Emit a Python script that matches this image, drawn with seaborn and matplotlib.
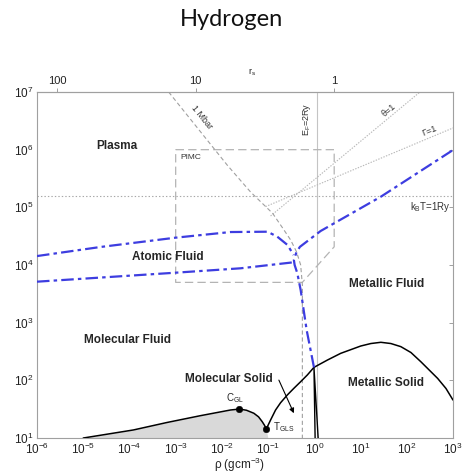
import numpy as np
import pandas as pd
import matplotlib
matplotlib.use("Agg")
import matplotlib.pyplot as plt
from matplotlib.ticker import LogLocator, NullLocator, NullFormatter
import seaborn as sns

# ---- phase-diagram data: density rho (g/cm^3), temperature T (K) ----
# upper (ionisation) boundary of the atomic fluid
ion_rho = [1e-6, 2.32e-5, 1e-3, 1.53e-2, 9.7e-2, 0.158, 0.264, 0.356]
ion_T = [1.43e4, 2.05e4, 2.98e4, 3.73e4, 3.78e4, 3.10e4, 2.22e4, 1.49e4]

# lower (dissociation) boundary of the atomic fluid
dis_rho = [1e-6, 1e-3, 2.53e-2, 0.307, 0.361]
dis_T = [5.14e3, 7.36e3, 8.77e3, 1.10e4, 1.13e4]

# metallisation line continuing into the dense-plasma boundary
met_rho = [0.982, 0.682, 0.506, 0.429, 0.375, 0.361, 0.414, 0.489, 1.37, 27.5, 1000]
met_T = [168, 746, 3.69e3, 7.18e3, 1.0e4, 1.22e4, 1.70e4, 2.07e4, 3.89e4, 1.53e5, 9.86e5]

# 1 Mbar isobar
mbar_rho = [7.05e-4, 1.30e-2, 4.16e-2, 0.125, 0.206, 0.307, 0.414, 0.506, 0.551, 0.551]
mbar_T = [1e7, 5.42e5, 1.85e5, 7.89e4, 4.39e4, 2.72e4, 1.68e4, 1.0e4, 4.5e3, 10]

# region covered by path-integral Monte Carlo
pimc_rho = [1e-3, 2.69, 2.69, 0.55, 1e-3, 1e-3]
pimc_T = [1e6, 1e6, 2.07e4, 5e3, 5e3, 1e6]

# degeneracy (theta = 1) and coupling (Gamma = 1) lines
theta_rho = [0.113, 193]
theta_T = [7.08e4, 1e7]
gamma_rho = [0.0881, 1000]
gamma_T = [1.03e5, 2.38e6]

# Fermi energy E_F = 2 Ry and k_B T = 1 Ry
ef_rho = 1.12
ry_T = 1.58e5

# gas-liquid coexistence (filled) up to the triple point
gl_rho = [1e-5, 1.22e-4, 6.5e-4, 3.43e-3, 1.53e-2, 2.40e-2, 3.41e-2, 4.91e-2,
          6.21e-2, 7.46e-2, 8.37e-2, 9.12e-2, 9.89e-2]
gl_T = [10, 13.8, 18.6, 24.4, 30.6, 31.8, 30.3, 26.9, 23.3, 19.2, 16.6, 14.3, 10]

# melting curve from the triple point
melt_rho = [9.12e-2, 0.113, 0.145, 0.186, 0.260, 0.361, 0.506, 0.706, 0.982, 1.92,
            3.72, 10.1, 16.7, 27.5, 45.3, 74.5, 123, 202, 466, 705, 1000]
melt_T = [14.3, 20.5, 30.6, 40.9, 55.7, 72.8, 94.8, 124, 168, 225,
          294, 394, 435, 457, 435, 384, 304, 210, 108, 72.3, 45.6]

# molecular / metallic solid boundary
sol_rho = [1.04, 0.982, 1.21]
sol_T = [10, 168, 10]

# critical point and triple point
pts_rho = [2.40e-2, 9.12e-2]
pts_T = [31.8, 14.3]
pts_name = ["C$_\\mathregular{GL}$", "T$_\\mathregular{GLS}$"]

sns.set_theme(style="white")
plt.rcParams["font.family"] = ["Liberation Sans", "DejaVu Sans"]
plt.rcParams["mathtext.default"] = "regular"
plt.rcParams["lines.scale_dashes"] = False

fig = plt.figure(figsize=(4.62, 4.74), dpi=100)
ax = fig.add_axes([0.0801, 0.0759, 0.9004, 0.730])
ax.set_xscale("log")
ax.set_yscale("log")


def draw(rho, T, **kw):
    df = pd.DataFrame({"rho": rho, "T": T})
    sns.lineplot(data=df, x="rho", y="T", sort=False, estimator=None, ax=ax, **kw)


# reference lines
ax.axhline(ry_T, color="#a8a8a8", lw=0.8, ls=(0, (1, 1.5)), zorder=1)
ax.axvline(ef_rho, color="#c4c4c4", lw=0.8, zorder=1)
draw(theta_rho, theta_T, color="#b8b8b8", lw=0.8, linestyle=(0, (1, 1)), zorder=1)
draw(gamma_rho, gamma_T, color="#b8b8b8", lw=0.8, linestyle=(0, (1, 1)), zorder=1)
draw(pimc_rho, pimc_T, color="#b4b4b4", lw=0.9, linestyle=(0, (6, 3)), zorder=1)
draw(mbar_rho, mbar_T, color="#a0a0a0", lw=0.8, linestyle=(0, (3, 2)), zorder=1)

# gas-liquid region
ax.fill_between(gl_rho, gl_T, 10, color="#d9d9d9", lw=0, zorder=2)
draw(gl_rho[:-1], gl_T[:-1], color="black", lw=1.1, zorder=3)
draw(melt_rho, melt_T, color="black", lw=1.1, zorder=3)
draw(sol_rho, sol_T, color="black", lw=1.0, zorder=3)

# atomic-fluid / plasma boundaries
blue = "#3d3de0"
dashdot = (0, (9, 3, 2.5, 3))
draw(ion_rho, ion_T, color=blue, lw=1.6, linestyle=dashdot, zorder=4)
draw(dis_rho, dis_T, color=blue, lw=1.6, linestyle=dashdot, zorder=4)
draw(met_rho, met_T, color=blue, lw=1.6, linestyle=dashdot, zorder=4)

sns.scatterplot(x=pts_rho, y=pts_T, color="black", s=22, ax=ax, zorder=5, edgecolor="black")
ax.text(1.9e-2, 50, pts_name[0], fontsize=7, ha="center", va="center")
ax.text(0.128, 15.7, pts_name[1], fontsize=7, ha="left", va="center")

ax.set_xlim(1e-6, 1e3)
ax.set_ylim(1e1, 1e7)

# region labels
bold = dict(fontsize=8.5, fontweight="bold", ha="center", va="center")
ax.text(5.4e-5, 1.16e6, "Plasma", **bold)
ax.text(6.6e-4, 1.38e4, "Atomic Fluid", **bold)
ax.text(8.9e-5, 501, "Molecular Fluid", **bold)
ax.text(1.39e-2, 105, "Molecular Solid", **bold)
ax.text(37, 4.7e3, "Metallic Fluid", **bold)
ax.text(35, 89, "Metallic Solid", **bold)

small = dict(fontsize=6.5, ha="center", va="center", color="#333333")
ax.text(1.26e-3, 7.4e5, "PIMC", fontsize=6, ha="left", va="center", color="#333333")
ax.text(3.6e-3, 3.68e6, "1 Mbar", rotation=-51, **small)
ax.text(0.706, 3.4e6, "E$_\\mathregular{F}$=2Ry", rotation=90, **small)
ax.text(41, 4.9e6, "\u03b8=1", rotation=40, **small)
ax.text(302, 2.11e6, "\u0393=1", rotation=22, **small)
ax.text(318, 1.01e5, "k$_\\mathregular{B}$T=1Ry", fontsize=7, ha="center", va="center",
        color="#333333")

ax.annotate("", xy=(0.361, 26.9), xytext=(0.171, 101),
            arrowprops=dict(arrowstyle="-|>", color="black", lw=0.8,
                            mutation_scale=7, shrinkA=0, shrinkB=0))

# axes styling
for sp in ax.spines.values():
    sp.set_color("#a0a0a0")
    sp.set_linewidth(0.8)
ax.xaxis.set_major_locator(LogLocator(base=10, numticks=20))
ax.xaxis.set_minor_locator(LogLocator(base=10, subs=np.arange(2, 10), numticks=20))
ax.xaxis.set_minor_formatter(NullFormatter())
ax.yaxis.set_major_locator(LogLocator(base=10, numticks=20))
ax.yaxis.set_minor_locator(NullLocator())
ax.tick_params(which="both", direction="in", color="#a0a0a0", labelsize=8.5,
               labelcolor="#222222", pad=2.5, right=True, top=False)
ax.tick_params(which="major", length=3, width=0.7)
ax.tick_params(which="minor", length=1.8, width=0.5)
ax.set_xlabel("")
ax.set_ylabel("")
fig.text(240 / 462, 1 - 465 / 474, "\u03c1 (gcm$^{-3}$)", fontsize=8.5,
         ha="center", va="center", color="#222222")

# Wigner-Seitz radius on the top axis
def to_rs(r):
    r = np.asarray(r, dtype=float)
    with np.errstate(divide="ignore", invalid="ignore"):
        return np.cbrt(2.69 / r)


def from_rs(s):
    s = np.asarray(s, dtype=float)
    with np.errstate(divide="ignore", invalid="ignore"):
        return 2.69 / s ** 3


sec = ax.secondary_xaxis("top", functions=(to_rs, from_rs))
sec.set_xticks([100, 10, 1])
sec.set_xticklabels(["100", "10", "1"])
sec.xaxis.set_minor_locator(NullLocator())
sec.tick_params(direction="out", length=3, width=0.7, color="#a0a0a0",
                labelsize=8, labelcolor="#222222", pad=1.5)
sec.spines["top"].set_color("#a0a0a0")
sec.spines["top"].set_linewidth(0.8)
fig.text(252 / 462, 1 - 72 / 474, "r$_\\mathregular{s}$", fontsize=6.5,
         ha="center", va="center", color="#222222")

fig.text(0.5, 1 - 19 / 474, "Hydrogen", fontsize=17, ha="center", va="center",
         family=["Lato", "DejaVu Sans"], color="#111111")

fig.savefig("out.png", dpi=100)
